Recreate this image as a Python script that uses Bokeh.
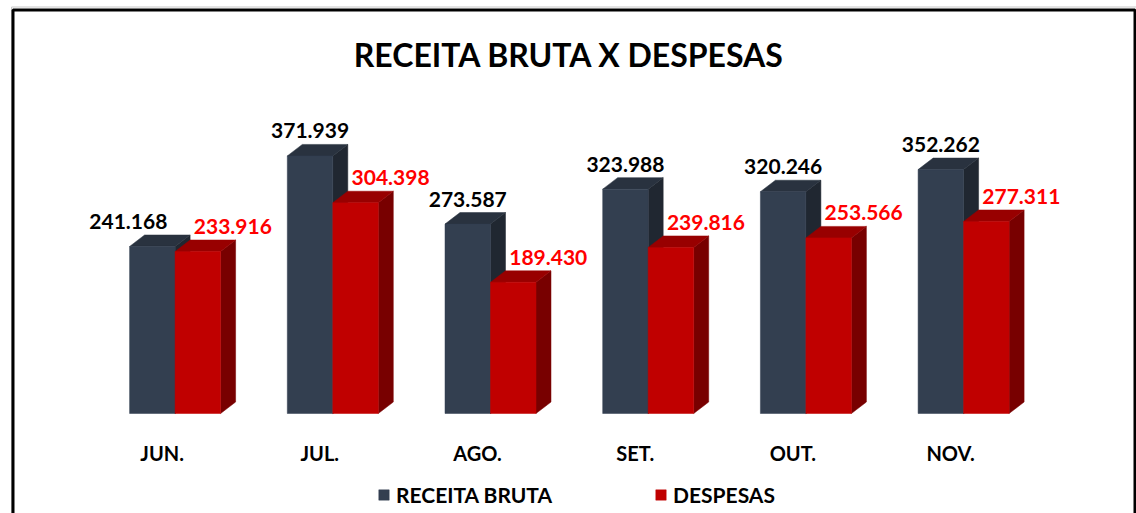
from bokeh.plotting import figure
from bokeh.models import Range1d, Label, BoxAnnotation, Legend, LegendItem, ColumnDataSource, Span
from bokeh.core.properties import value
from bokeh.embed import file_html
from bokeh.resources import INLINE

# ---------------- data ----------------
months = ["JUN.", "JUL.", "AGO.", "SET.", "OUT.", "NOV."]
receita = [241168, 371939, 273587, 323988, 320246, 352262]
despesas = [233916, 304398, 189430, 239816, 253566, 277311]
series_names = ["RECEITA BRUTA", "DESPESAS"]
title_text = "RECEITA BRUTA X DESPESAS"

# ---------------- style / layout ----------------
W, H = 1136, 513
X0, X1 = -1.10717, 6.09639
Y0, Y1 = -144404, 596389
PX_X = (X1 - X0) / W
PX_Y = (Y1 - Y0) / H
BAR_W = 45.5 * PX_X
DX = 15 * PX_X
DY = 11.5 * PX_Y
C_REC = ("#333F50", "#29323F", "#202731")   # front, top, side
C_DES = ("#C00000", "#980000", "#780000")
FONT_NAME = "Lato"
FONT = value(FONT_NAME)
rec_label_nudge = [-24, 0, 0, 0, 0, 0]   # px
des_label_nudge = [35, 35, 35, 35, 35, 35]  # px


def fmt(v):
    return f"{v:,}".replace(",", ".")


p = figure(width=W, height=H, output_backend="svg", toolbar_location=None,
           x_range=Range1d(X0, X1), y_range=Range1d(Y0, Y1),
           min_border=0, min_border_left=0, min_border_right=0,
           min_border_top=0, min_border_bottom=0)
p.axis.visible = False
p.grid.visible = False
p.outline_line_color = None
p.background_fill_color = "white"
p.border_fill_color = "white"

idx = list(range(len(months)))


def bar3d(lefts, heights, colors):
    rights = [l + BAR_W for l in lefts]
    side_xs = [[r, r + DX, r + DX, r] for r in rights]
    side_ys = [[0, DY, h + DY, h] for h in heights]
    top_xs = [[l, l + DX, r + DX, r] for l, r in zip(lefts, rights)]
    top_ys = [[h, h + DY, h + DY, h] for h in heights]
    p.patches(side_xs, side_ys, fill_color=colors[2], line_color=colors[2], line_width=0.5)
    p.patches(top_xs, top_ys, fill_color=colors[1], line_color=colors[1], line_width=0.5)
    src = ColumnDataSource(dict(left=lefts, right=rights, top=heights, bottom=[0] * len(heights)))
    return p.quad(left="left", right="right", top="top", bottom="bottom", source=src,
                  fill_color=colors[0], line_color=colors[0], line_width=0.5)


r_rec = bar3d([i - BAR_W for i in idx], receita, C_REC)
r_des = bar3d([float(i) for i in idx], despesas, C_DES)

# value labels
p.text(x=[i - BAR_W / 2 + n * PX_X for i, n in zip(idx, rec_label_nudge)],
       y=[v + 25 * PX_Y for v in receita],
       text=[fmt(v) for v in receita], text_font=FONT, text_font_style="bold",
       text_font_size="21px", text_color="black", text_align="center",
       text_baseline="middle")
p.text(x=[i + BAR_W / 2 + n * PX_X for i, n in zip(idx, des_label_nudge)],
       y=[v + 25 * PX_Y for v in despesas],
       text=[fmt(v) for v in despesas], text_font=FONT, text_font_style="bold",
       text_font_size="21px", text_color="#FF0000", text_align="center",
       text_baseline="middle")

# category labels
p.text(x=[i - 13 * PX_X for i in idx], y=[-39 * PX_Y] * len(idx), text=months,
       text_font=FONT, text_font_style="bold", text_font_size="20px",
       text_color="black", text_align="center", text_baseline="middle")

# title
p.add_layout(Label(x=(len(months) - 1) / 2, y=Y1 - 54 * PX_Y, text=title_text,
                   text_font=FONT_NAME, text_font_style="bold", text_font_size="32px",
                   text_color="black", text_align="center", text_baseline="middle"))

# frame lines
p.add_layout(BoxAnnotation(left=X0 + 11 * PX_X, right=X1 + 5 * PX_X,
                           top=Y1 - 6.5 * PX_Y, bottom=Y0 - 60 * PX_Y,
                           fill_alpha=0, line_color="#C8C8C8", line_alpha=1, line_width=1))
p.add_layout(BoxAnnotation(left=X0 + 12.5 * PX_X, right=X1 - 1.5 * PX_X,
                           top=Y1 - 9.5 * PX_Y, bottom=Y0 - 60 * PX_Y,
                           fill_alpha=0, line_color="black", line_alpha=1, line_width=3))

# legends
for name, rend, loc in [(series_names[0], r_rec, (377, 6)), (series_names[1], r_des, (654, 6))]:
    lg = Legend(items=[LegendItem(label=name, renderers=[rend])], location=loc,
                orientation="horizontal", padding=0, margin=0, border_line_alpha=0,
                background_fill_alpha=0, glyph_width=13, glyph_height=13,
                label_standoff=6, label_text_font=FONT_NAME, label_text_font_style="bold",
                label_text_font_size="21px", label_text_color="black")
    p.add_layout(lg)

open("out.html", "w").write(file_html(p, INLINE))
